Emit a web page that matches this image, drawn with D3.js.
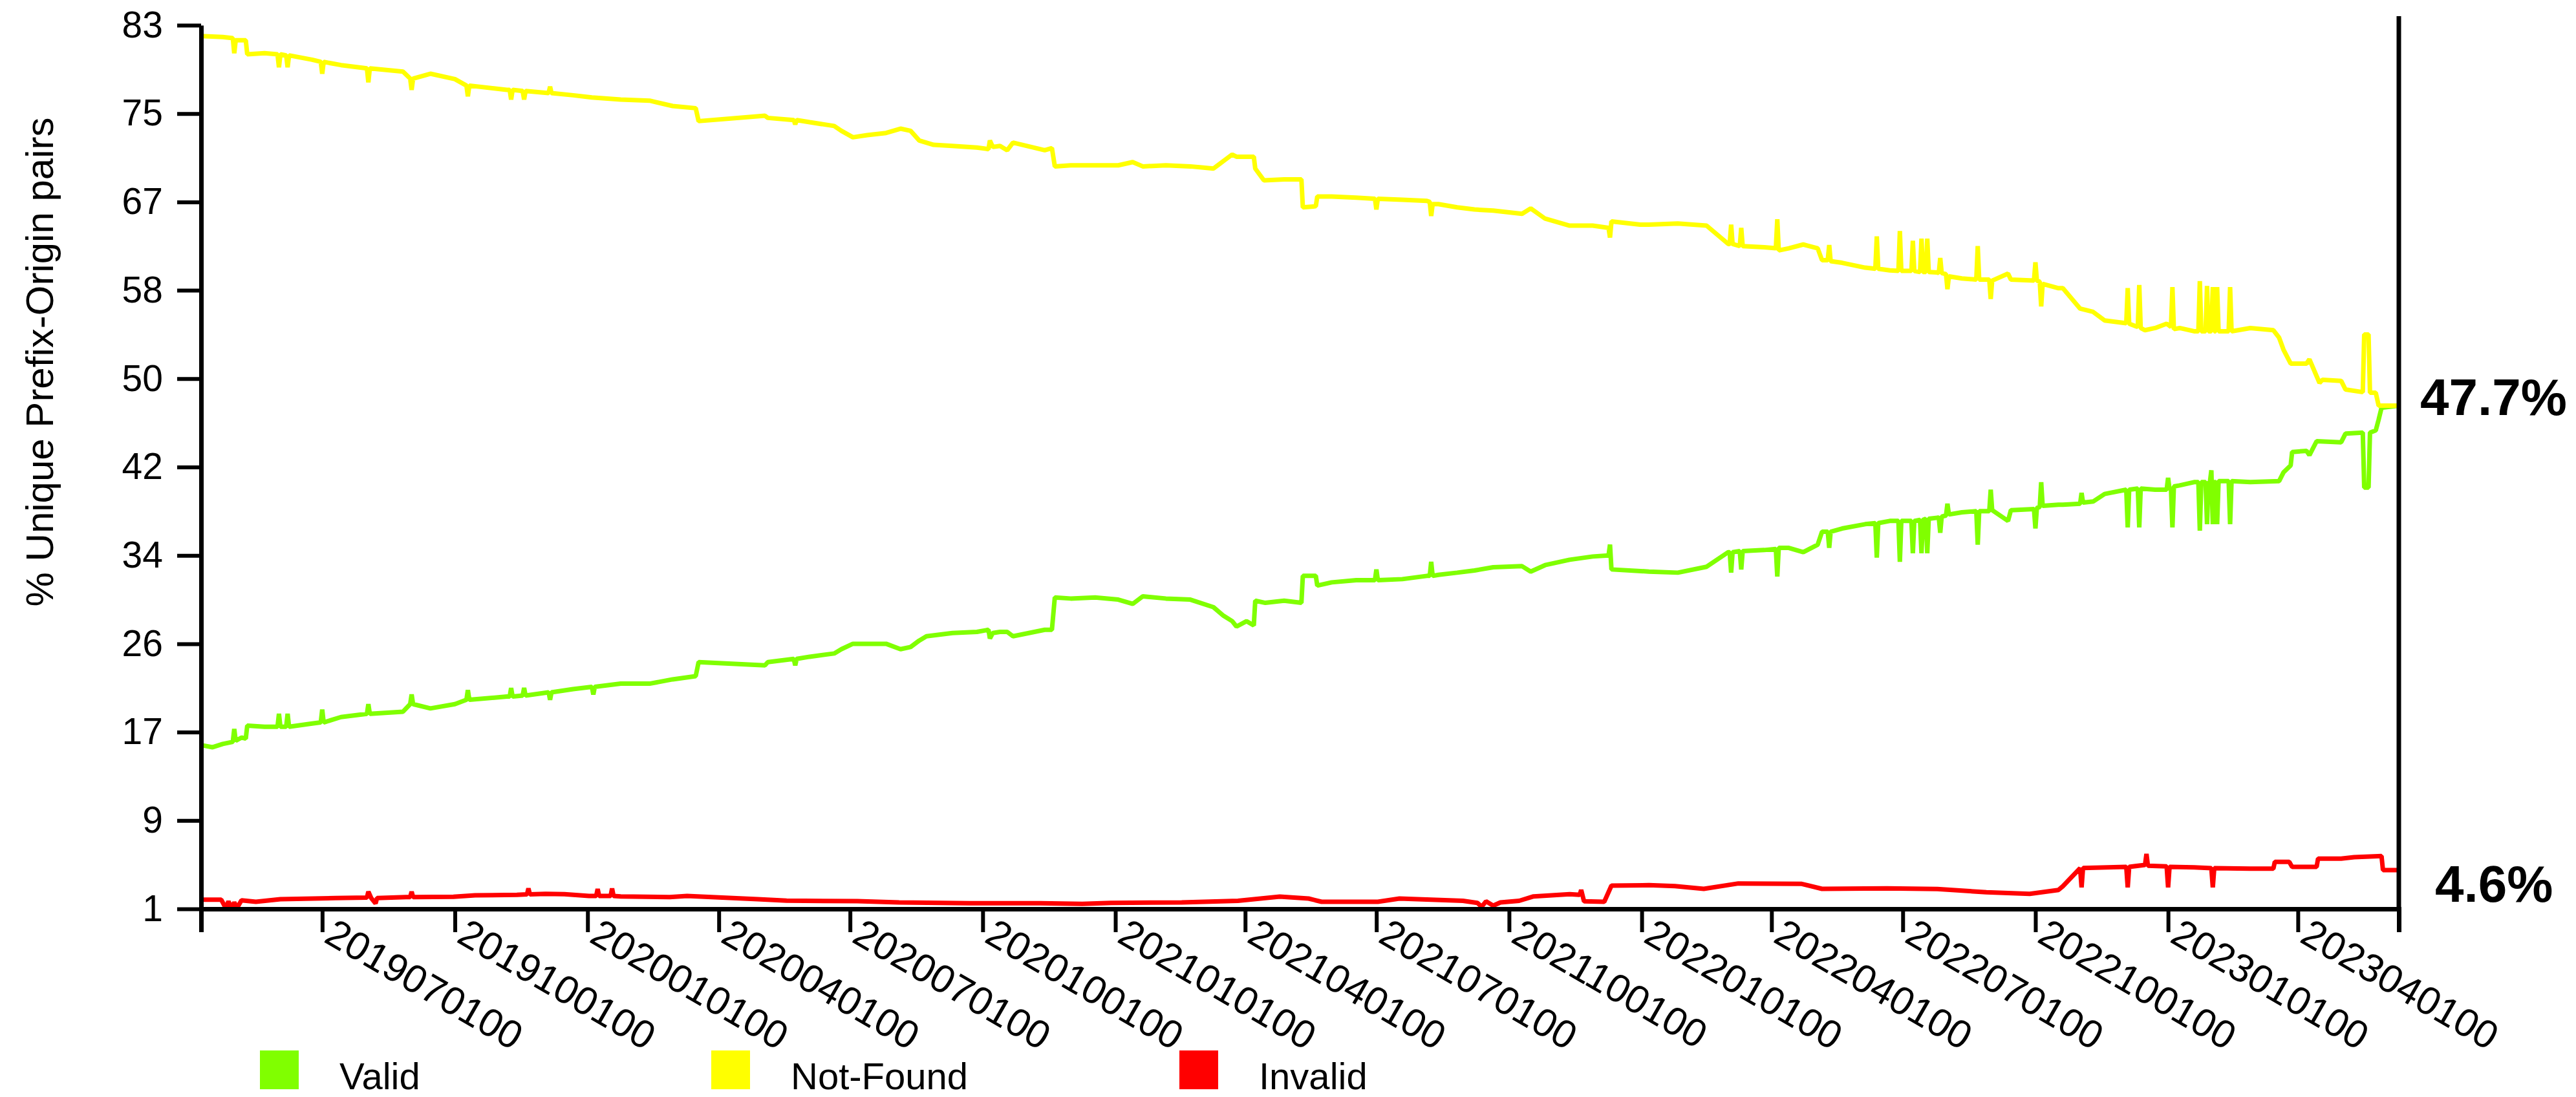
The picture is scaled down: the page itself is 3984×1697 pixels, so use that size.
<!DOCTYPE html>
<html>
<head>
<meta charset="utf-8">
<script src="https://cdn.jsdelivr.net/npm/d3@7"></script>
<style>
  html, body { margin: 0; padding: 0; background: #ffffff; }
  svg { display: block; font-family: "Liberation Sans", Arial, Helvetica, sans-serif; }
</style>
</head>
<body>
<svg id="chart" width="3984" height="1697"></svg>
<script>
// Share of unique prefix-origin pairs by RPKI validation state, daily snapshots.
const validSeries = [
  ["2019-04-08",16.2],["2019-04-16",16.0],["2019-04-23",16.3],["2019-04-30",16.5],["2019-05-01",17.7],["2019-05-02",16.6],
  ["2019-05-06",16.9],["2019-05-09",16.8],["2019-05-10",18.0],["2019-05-22",17.9],["2019-05-31",17.9],["2019-06-01",19.1],
  ["2019-06-02",17.9],["2019-06-06",17.9],["2019-06-07",19.1],["2019-06-08",17.9],["2019-06-24",18.2],["2019-06-30",18.3],
  ["2019-07-01",19.5],["2019-07-02",18.3],["2019-07-14",18.8],["2019-08-01",19.1],["2019-08-02",20.0],["2019-08-03",19.1],
  ["2019-08-26",19.3],["2019-08-31",20.0],["2019-09-01",20.9],["2019-09-02",20.0],["2019-09-14",19.6],["2019-10-01",20.0],
  ["2019-10-09",20.4],["2019-10-10",21.3],["2019-10-11",20.4],["2019-11-06",20.7],["2019-11-08",20.7],["2019-11-09",21.5],
  ["2019-11-10",20.7],["2019-11-17",20.8],["2019-11-18",21.5],["2019-11-19",20.8],["2019-12-05",21.1],["2019-12-06",20.4],
  ["2019-12-07",21.1],["2019-12-22",21.4],["2020-01-04",21.6],["2020-01-05",20.9],["2020-01-06",21.6],["2020-01-24",21.9],
  ["2020-02-13",21.9],["2020-02-29",22.3],["2020-03-16",22.6],["2020-03-18",23.9],["2020-05-03",23.6],["2020-05-05",23.9],
  ["2020-05-23",24.2],["2020-05-24",23.6],["2020-05-25",24.2],["2020-06-03",24.4],["2020-06-20",24.7],["2020-06-25",25.1],
  ["2020-07-03",25.6],["2020-07-26",25.6],["2020-08-05",25.1],["2020-08-12",25.3],["2020-08-18",25.9],["2020-08-23",26.3],
  ["2020-09-10",26.6],["2020-09-27",26.7],["2020-10-05",26.9],["2020-10-06",26.1],["2020-10-08",26.6],["2020-10-13",26.7],
  ["2020-10-18",26.7],["2020-10-22",26.3],["2020-11-13",26.9],["2020-11-18",26.9],["2020-11-20",29.9],["2020-12-01",29.8],
  ["2020-12-18",29.9],["2021-01-03",29.7],["2021-01-13",29.3],["2021-01-20",30.0],["2021-02-05",29.8],["2021-02-22",29.7],
  ["2021-03-10",29.0],["2021-03-17",28.2],["2021-03-23",27.7],["2021-03-26",27.2],["2021-04-02",27.7],["2021-04-07",27.3],
  ["2021-04-08",29.6],["2021-04-15",29.4],["2021-04-28",29.6],["2021-05-10",29.4],["2021-05-11",31.9],["2021-05-20",31.9],
  ["2021-05-21",31.0],["2021-05-31",31.3],["2021-06-17",31.5],["2021-06-30",31.5],["2021-07-01",32.5],["2021-07-02",31.5],
  ["2021-07-19",31.6],["2021-08-05",31.9],["2021-08-07",31.9],["2021-08-08",33.2],["2021-08-09",31.9],["2021-08-13",32.0],
  ["2021-08-26",32.2],["2021-09-07",32.4],["2021-09-20",32.7],["2021-10-10",32.8],["2021-10-16",32.3],["2021-10-26",32.9],
  ["2021-11-12",33.4],["2021-11-28",33.7],["2021-12-09",33.8],["2021-12-10",34.8],["2021-12-11",32.5],["2022-01-06",32.3],
  ["2022-01-26",32.2],["2022-02-15",32.75],["2022-03-02",34.1],["2022-03-03",34.1],["2022-03-04",32.2],["2022-03-05",34.1],
  ["2022-03-10",34.2],["2022-03-11",32.5],["2022-03-12",34.2],["2022-03-27",34.3],["2022-04-04",34.4],["2022-04-05",31.85],
  ["2022-04-06",34.5],["2022-04-13",34.5],["2022-04-23",34.1],["2022-05-03",34.8],["2022-05-06",36.0],["2022-05-10",36.0],
  ["2022-05-11",34.5],["2022-05-12",36.0],["2022-05-20",36.3],["2022-06-05",36.7],["2022-06-12",36.8],["2022-06-13",33.6],
  ["2022-06-14",36.8],["2022-06-22",37.0],["2022-06-28",37.0],["2022-06-29",33.2],["2022-06-30",37.0],["2022-07-07",37.0],
  ["2022-07-08",34.0],["2022-07-09",37.0],["2022-07-13",37.1],["2022-07-14",34.0],["2022-07-15",37.1],["2022-07-17",37.2],
  ["2022-07-18",34.0],["2022-07-19",37.2],["2022-07-25",37.3],["2022-07-26",37.3],["2022-07-27",35.9],["2022-07-28",37.4],
  ["2022-07-31",37.5],["2022-08-01",38.6],["2022-08-02",37.6],["2022-08-11",37.8],["2022-08-21",37.9],["2022-08-22",34.8],
  ["2022-08-23",37.9],["2022-08-28",37.9],["2022-08-30",37.9],["2022-08-31",39.9],["2022-09-01",38.0],["2022-09-12",37.0],
  ["2022-09-14",38.0],["2022-09-30",38.1],["2022-10-01",36.3],["2022-10-02",38.2],["2022-10-04",38.3],["2022-10-05",40.6],
  ["2022-10-06",38.4],["2022-10-17",38.5],["2022-10-20",38.5],["2022-11-01",38.6],["2022-11-02",39.6],["2022-11-03",38.7],
  ["2022-11-10",38.8],["2022-11-18",39.5],["2022-12-03",39.9],["2022-12-04",36.4],["2022-12-05",39.9],["2022-12-11",40.0],
  ["2022-12-12",36.4],["2022-12-13",40.0],["2022-12-23",39.9],["2022-12-31",39.9],["2023-01-01",41.0],["2023-01-02",39.9],
  ["2023-01-03",40.0],["2023-01-04",36.4],["2023-01-05",40.2],["2023-01-09",40.3],["2023-01-19",40.6],["2023-01-22",40.6],
  ["2023-01-23",36.1],["2023-01-24",40.6],["2023-01-27",40.6],["2023-01-28",36.7],["2023-01-29",40.6],["2023-01-30",40.6],
  ["2023-01-31",41.7],["2023-02-01",36.7],["2023-02-02",40.6],["2023-02-03",40.6],["2023-02-04",36.7],["2023-02-05",40.7],
  ["2023-02-12",40.7],["2023-02-13",36.7],["2023-02-14",40.7],["2023-02-27",40.6],["2023-03-19",40.7],["2023-03-22",41.5],
  ["2023-03-27",42.15],["2023-03-28",43.4],["2023-04-07",43.5],["2023-04-09",43.1],["2023-04-14",44.4],["2023-05-01",44.3],
  ["2023-05-04",45.1],["2023-05-16",45.2],["2023-05-17",40.1],["2023-05-20",40.1],["2023-05-21",45.2],["2023-05-25",45.4],
  ["2023-05-27",46.4],["2023-05-29",47.5],["2023-06-10",47.7]
];

const notFoundSeries = [
  ["2019-04-08",82.0],["2019-04-23",81.9],["2019-04-30",81.8],["2019-05-01",80.4],["2019-05-02",81.6],["2019-05-09",81.6],
  ["2019-05-10",80.3],["2019-05-22",80.4],["2019-05-31",80.3],["2019-06-01",79.1],["2019-06-02",80.3],["2019-06-06",80.2],
  ["2019-06-07",79.1],["2019-06-08",80.2],["2019-06-24",79.8],["2019-06-30",79.6],["2019-07-01",78.5],["2019-07-02",79.6],
  ["2019-07-14",79.3],["2019-08-01",79.0],["2019-08-02",77.7],["2019-08-03",79.0],["2019-08-26",78.7],["2019-08-31",78.05],
  ["2019-09-01",77.0],["2019-09-02",78.05],["2019-09-14",78.5],["2019-10-01",78.0],["2019-10-09",77.4],["2019-10-10",76.4],
  ["2019-10-11",77.4],["2019-11-06",77.0],["2019-11-08",77.0],["2019-11-09",76.1],["2019-11-10",77.0],["2019-11-17",76.9],
  ["2019-11-18",76.1],["2019-11-19",76.9],["2019-12-05",76.7],["2019-12-06",77.3],["2019-12-07",76.7],["2019-12-22",76.5],
  ["2020-01-04",76.3],["2020-01-24",76.1],["2020-02-13",76.0],["2020-02-29",75.5],["2020-03-16",75.3],["2020-03-18",74.1],
  ["2020-05-03",74.6],["2020-05-05",74.4],["2020-05-23",74.2],["2020-05-24",73.8],["2020-05-25",74.2],["2020-06-03",74.0],
  ["2020-06-20",73.65],["2020-06-25",73.2],["2020-07-03",72.6],["2020-07-13",72.8],["2020-07-26",73.0],["2020-08-05",73.4],
  ["2020-08-12",73.2],["2020-08-18",72.3],["2020-08-28",71.9],["2020-09-10",71.8],["2020-09-27",71.65],["2020-10-05",71.5],
  ["2020-10-06",72.3],["2020-10-08",71.7],["2020-10-13",71.8],["2020-10-18",71.4],["2020-10-22",72.1],["2020-11-13",71.4],
  ["2020-11-18",71.6],["2020-11-20",69.9],["2020-12-01",70.0],["2020-12-18",70.0],["2021-01-03",70.0],["2021-01-13",70.3],
  ["2021-01-20",69.9],["2021-02-05",70.0],["2021-02-22",69.9],["2021-03-10",69.7],["2021-03-17",70.4],["2021-03-23",71.0],
  ["2021-03-26",70.8],["2021-04-02",70.8],["2021-04-07",70.8],["2021-04-08",69.7],["2021-04-14",68.6],["2021-04-28",68.7],
  ["2021-05-10",68.7],["2021-05-11",66.1],["2021-05-20",66.2],["2021-05-21",67.1],["2021-05-31",67.1],["2021-06-17",67.0],
  ["2021-06-30",66.9],["2021-07-01",65.9],["2021-07-02",66.9],["2021-07-19",66.8],["2021-08-05",66.7],["2021-08-07",66.6],
  ["2021-08-08",65.3],["2021-08-09",66.4],["2021-08-13",66.4],["2021-08-26",66.1],["2021-09-07",65.9],["2021-09-20",65.8],
  ["2021-10-10",65.5],["2021-10-16",66.0],["2021-10-26",65.05],["2021-11-12",64.4],["2021-11-28",64.4],["2021-12-09",64.2],
  ["2021-12-10",63.3],["2021-12-11",64.8],["2021-12-31",64.5],["2022-01-06",64.5],["2022-01-26",64.6],["2022-02-15",64.4],
  ["2022-03-02",62.7],["2022-03-03",62.7],["2022-03-04",64.5],["2022-03-05",62.7],["2022-03-10",62.5],["2022-03-11",64.2],
  ["2022-03-12",62.5],["2022-03-27",62.4],["2022-04-04",62.3],["2022-04-05",65.0],["2022-04-06",62.1],["2022-04-13",62.3],
  ["2022-04-23",62.65],["2022-05-03",62.3],["2022-05-06",61.2],["2022-05-10",61.2],["2022-05-11",62.6],["2022-05-12",61.1],
  ["2022-05-20",60.95],["2022-06-05",60.5],["2022-06-12",60.4],["2022-06-13",63.4],["2022-06-14",60.4],["2022-06-22",60.25],
  ["2022-06-28",60.2],["2022-06-29",63.9],["2022-06-30",60.2],["2022-07-07",60.2],["2022-07-08",63.0],["2022-07-09",60.2],
  ["2022-07-13",60.1],["2022-07-14",63.2],["2022-07-15",60.1],["2022-07-17",60.1],["2022-07-18",63.2],["2022-07-19",60.1],
  ["2022-07-25",60.05],["2022-07-26",60.0],["2022-07-27",61.4],["2022-07-28",60.0],["2022-07-31",59.9],["2022-08-01",58.5],
  ["2022-08-02",59.7],["2022-08-11",59.5],["2022-08-21",59.4],["2022-08-22",62.5],["2022-08-23",59.4],["2022-08-28",59.4],
  ["2022-08-30",59.4],["2022-08-31",57.6],["2022-09-01",59.3],["2022-09-12",59.95],["2022-09-14",59.4],["2022-09-30",59.3],
  ["2022-10-01",61.0],["2022-10-02",59.3],["2022-10-04",59.2],["2022-10-05",56.9],["2022-10-06",59.0],["2022-10-17",58.6],
  ["2022-10-20",58.6],["2022-11-01",56.7],["2022-11-10",56.4],["2022-11-18",55.6],["2022-12-03",55.35],["2022-12-04",58.6],
  ["2022-12-05",55.3],["2022-12-11",55.0],["2022-12-12",58.9],["2022-12-13",54.9],["2022-12-16",54.7],["2022-12-23",54.9],
  ["2022-12-31",55.3],["2023-01-03",55.0],["2023-01-04",58.7],["2023-01-05",54.8],["2023-01-09",54.9],["2023-01-19",54.6],
  ["2023-01-22",54.6],["2023-01-23",59.25],["2023-01-24",54.6],["2023-01-27",54.6],["2023-01-28",58.8],["2023-01-29",54.6],
  ["2023-01-31",54.6],["2023-02-01",58.7],["2023-02-02",54.6],["2023-02-03",54.6],["2023-02-04",58.7],["2023-02-05",54.6],
  ["2023-02-12",54.6],["2023-02-13",58.7],["2023-02-14",54.6],["2023-02-27",54.9],["2023-03-15",54.7],["2023-03-19",54.0],
  ["2023-03-22",52.9],["2023-03-27",51.6],["2023-04-07",51.6],["2023-04-09",52.0],["2023-04-16",49.8],["2023-04-18",50.1],
  ["2023-05-01",50.0],["2023-05-04",49.2],["2023-05-16",48.95],["2023-05-17",54.3],["2023-05-20",54.3],["2023-05-21",48.9],
  ["2023-05-25",48.9],["2023-05-27",47.7],["2023-06-10",47.7]
];

const invalidSeries = [
  ["2019-04-08",1.85],["2019-04-22",1.85],["2019-04-25",1.1],["2019-04-27",1.7],["2019-04-29",1.05],["2019-05-01",1.6],
  ["2019-05-03",1.1],["2019-05-06",1.8],["2019-05-16",1.66],["2019-06-02",1.9],["2019-07-10",2.0],["2019-08-01",2.05],
  ["2019-08-02",2.6],["2019-08-04",2.0],["2019-08-07",1.5],["2019-08-08",2.0],["2019-08-28",2.1],["2019-08-31",2.1],
  ["2019-09-01",2.6],["2019-09-02",2.1],["2019-09-30",2.12],["2019-10-15",2.26],["2019-11-13",2.3],["2019-11-20",2.35],
  ["2019-11-21",2.9],["2019-11-22",2.35],["2019-12-03",2.4],["2019-12-16",2.36],["2020-01-02",2.2],["2020-01-07",2.2],
  ["2020-01-08",2.85],["2020-01-09",2.2],["2020-01-17",2.2],["2020-01-18",2.9],["2020-01-19",2.2],["2020-01-24",2.15],
  ["2020-02-27",2.1],["2020-03-10",2.2],["2020-04-28",1.9],["2020-05-18",1.76],["2020-07-06",1.72],["2020-08-04",1.6],
  ["2020-09-22",1.52],["2020-11-10",1.52],["2020-12-09",1.46],["2020-12-29",1.56],["2021-02-16",1.6],["2021-03-27",1.75],
  ["2021-04-25",2.14],["2021-05-15",1.96],["2021-05-24",1.66],["2021-07-02",1.66],["2021-07-17",1.96],["2021-08-30",1.75],
  ["2021-09-09",1.56],["2021-09-12",1.2],["2021-09-15",1.7],["2021-09-20",1.3],["2021-09-25",1.6],["2021-10-08",1.75],
  ["2021-10-18",2.16],["2021-11-12",2.36],["2021-11-19",2.3],["2021-11-20",2.76],["2021-11-22",1.7],["2021-12-06",1.66],
  ["2021-12-11",3.16],["2022-01-06",3.2],["2022-01-24",3.12],["2022-02-13",2.86],["2022-03-09",3.36],["2022-04-22",3.32],
  ["2022-05-06",2.86],["2022-06-20",2.9],["2022-07-25",2.85],["2022-08-28",2.54],["2022-09-27",2.4],["2022-10-17",2.76],
  ["2022-10-20",3.1],["2022-11-01",4.78],["2022-11-02",3.0],["2022-11-03",4.8],["2022-12-03",4.9],["2022-12-04",3.0],
  ["2022-12-05",4.9],["2022-12-16",5.08],["2022-12-17",6.1],["2022-12-18",5.0],["2022-12-31",4.95],["2023-01-01",3.0],
  ["2023-01-02",4.9],["2023-01-19",4.85],["2023-01-31",4.78],["2023-02-01",3.0],["2023-02-02",4.78],["2023-02-27",4.73],
  ["2023-03-15",4.73],["2023-03-16",5.36],["2023-03-26",5.36],["2023-03-28",4.9],["2023-04-14",4.9],["2023-04-15",5.67],
  ["2023-05-01",5.67],["2023-05-10",5.8],["2023-05-29",5.9],["2023-05-30",4.6],["2023-06-10",4.6]
];

const seriesNames = ["Valid", "Not-Found", "Invalid"];
const seriesColors = ["#80ff00", "#ffff00", "#ff0000"];
const dateRange = ["2019-04-08", "2023-06-10"];
const xTickDates = [
  "2019-07-01","2019-10-01","2020-01-01","2020-04-01","2020-07-01","2020-10-01","2021-01-01","2021-04-01",
  "2021-07-01","2021-10-01","2022-01-01","2022-04-01","2022-07-01","2022-10-01","2023-01-01","2023-04-01"
];
const yTickCount = 10;
const yDomain = [1, 83];
const endLabels = [47.7, 4.6];

const parseDate = d3.timeParse("%Y-%m-%d");
const svg = d3.select("#chart");

const plot = { left: 311, right: 3710, top: 39, bottom: 1406 };

const x = d3.scaleTime()
  .domain(dateRange.map(parseDate))
  .range([plot.left, plot.right]);

const y = d3.scaleLinear()
  .domain(yDomain)
  .range([plot.bottom, plot.top]);

// one polyline per validation state
const line = d3.line()
  .x(d => x(parseDate(d[0])))
  .y(d => y(d[1]))
  .curve(d3.curveLinear);

const allSeries = [validSeries, notFoundSeries, invalidSeries];
allSeries.forEach((s, i) => {
  svg.append("path")
    .datum(s)
    .attr("fill", "none")
    .attr("stroke", seriesColors[i])
    .attr("stroke-width", 7)
    .attr("stroke-linejoin", "bevel")
    .attr("d", line);
});

// y axis: ten equal steps between 1 and 83, labels rounded
const yTicks = d3.range(yTickCount + 1).map(i => yDomain[0] + i * (yDomain[1] - yDomain[0]) / yTickCount);
const yAxis = svg.append("g")
  .attr("transform", `translate(${plot.left},0)`)
  .call(d3.axisLeft(y)
    .tickValues(yTicks)
    .tickFormat(d => Math.round(d))
    .tickSize(37)
    .tickSizeOuter(0)
    .tickPadding(22));
yAxis.selectAll("text").attr("font-size", 57).attr("fill", "#000")
  .attr("font-family", "'Liberation Sans', Arial, sans-serif");
yAxis.selectAll("line").attr("stroke", "#000").attr("stroke-width", 6);
yAxis.select(".domain").attr("stroke", "#000").attr("stroke-width", 7);

// x axis: quarterly ticks, slanted labels
const xAxis = svg.append("g")
  .attr("transform", `translate(0,${plot.bottom})`)
  .call(d3.axisBottom(x)
    .tickValues(xTickDates.map(parseDate))
    .tickFormat(d3.timeFormat("%Y%m%d00"))
    .tickSize(36)
    .tickSizeOuter(36));
xAxis.selectAll("line").attr("stroke", "#000").attr("stroke-width", 6);
xAxis.select(".domain").attr("stroke", "#000").attr("stroke-width", 7);
xAxis.selectAll("text")
  .attr("font-size", 61)
  .attr("fill", "#000")
  .attr("font-family", "'Liberation Sans', Arial, sans-serif")
  .attr("text-anchor", "start")
  .attr("x", 0).attr("y", 0).attr("dy", 0)
  .attr("transform", "translate(0,50) rotate(30)");

// right-hand frame line
svg.append("line")
  .attr("x1", plot.right).attr("x2", plot.right)
  .attr("y1", 25).attr("y2", plot.bottom)
  .attr("stroke", "#000").attr("stroke-width", 7);

// y axis title
svg.append("text")
  .attr("transform", "translate(82,560) rotate(-90)")
  .attr("text-anchor", "middle")
  .attr("font-size", 60)
  .attr("fill", "#000")
  .text("% Unique Prefix-Origin pairs");

// end-of-series value labels
const endLabelPos = [{ x: 3743, dy: 15 }, { x: 3766, dy: 49 }];
endLabels.forEach((v, i) => {
  svg.append("text")
    .attr("x", endLabelPos[i].x)
    .attr("y", y(v) + endLabelPos[i].dy)
    .attr("font-size", 80)
    .attr("font-weight", "bold")
    .attr("fill", "#000")
    .text(v.toFixed(1) + "%");
});

// legend
const legendX = [402, 1100, 1824];
const legend = svg.append("g");
seriesNames.forEach((name, i) => {
  legend.append("rect")
    .attr("x", legendX[i]).attr("y", 1625)
    .attr("width", 60).attr("height", 60)
    .attr("fill", seriesColors[i]);
  legend.append("text")
    .attr("x", legendX[i] + 123).attr("y", 1685)
    .attr("font-size", 58)
    .attr("fill", "#000")
    .text(name);
});
</script>
</body>
</html>
